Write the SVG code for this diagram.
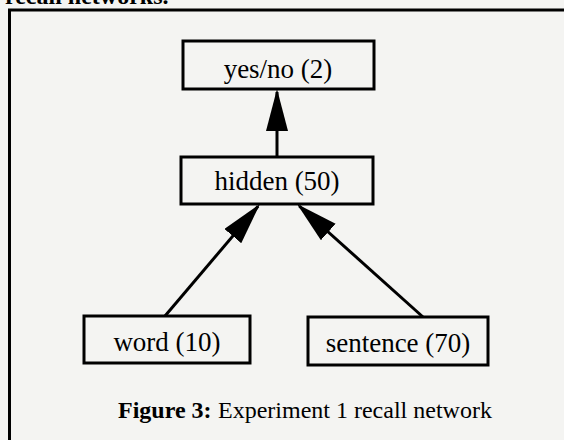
<svg xmlns="http://www.w3.org/2000/svg" width="564" height="440" viewBox="0 0 564 440">
<style>
.box{fill:#f4f4f2;stroke:#000;stroke-width:3}
.lbl{font-family:"Liberation Serif","Times New Roman",serif;font-size:27px;text-anchor:middle;fill:#000}
.edge{stroke:#000;stroke-width:3;fill:none}
.cap{font-family:"Liberation Serif","Times New Roman",serif;font-size:24px;fill:#000}
</style>
<defs>
<marker id="ah" markerUnits="userSpaceOnUse" markerWidth="44" markerHeight="24" refX="39" refY="11" orient="auto" viewBox="0 0 44 24">
<path d="M0,0 L42,11 L0,22 Z" fill="#000"/>
</marker>
</defs>
<rect x="0" y="0" width="564" height="440" fill="#f4f4f2"/>
<text class="cap" x="5" y="4" font-weight="bold">recall networks.</text>
<path d="M9.5,440 V10 H564" stroke="#000" stroke-width="3" fill="none"/>
<g id="connectors">
<line class="edge" x1="277" y1="157" x2="277" y2="92" marker-end="url(#ah)"/>
<line class="edge" x1="165" y1="316" x2="258.06" y2="206.29" marker-end="url(#ah)"/>
<line class="edge" x1="423" y1="317" x2="299.23" y2="206" marker-end="url(#ah)"/>
</g>
<g id="yesno">
<rect class="box" x="183" y="41" width="191" height="48"/>
<text class="lbl" x="278" y="78">yes/no (2)</text>
</g>
<g id="hidden">
<rect class="box" x="181" y="157" width="192" height="47"/>
<text class="lbl" x="277" y="190">hidden (50)</text>
</g>
<g id="word">
<rect class="box" x="84" y="316" width="166" height="47"/>
<text class="lbl" x="167" y="351">word (10)</text>
</g>
<g id="sentence">
<rect class="box" x="308" y="317" width="180" height="48"/>
<text class="lbl" x="398" y="352">sentence (70)</text>
</g>
<text class="cap" x="118" y="418"><tspan font-weight="bold">Figure 3:</tspan><tspan x="218">Experiment 1 recall network</tspan></text>
</svg>
